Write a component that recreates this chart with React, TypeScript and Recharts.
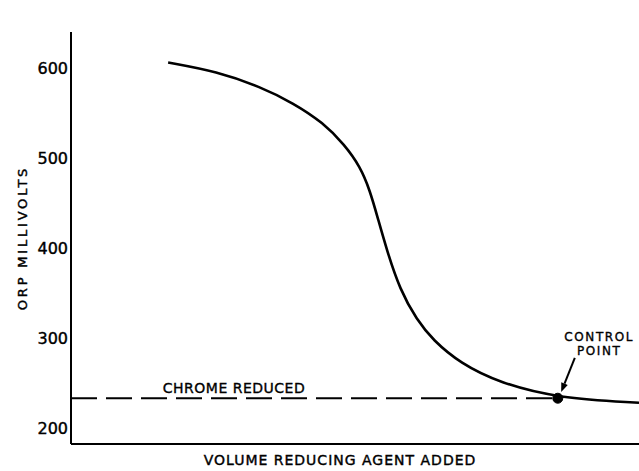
import React from 'react';
import { LineChart, Line, XAxis, YAxis, ReferenceDot, ReferenceLine, Label } from 'recharts';

const FONT = '"DejaVu Sans", sans-serif';

// Volume of reducing agent added (relative units, 0-100)
const volumeValues = [17.1, 25.7, 33.3, 39.1, 44.4, 48.2, 50.9, 52.6, 54.0, 55.6, 57.9, 60.9, 63.7, 68.5, 75.5, 85.7, 100];
// ORP in millivolts
const orpValues = [607, 597, 580, 562, 540, 515, 491, 465, 434, 398, 354, 320, 298, 272, 250, 233, 228];

const yTicks = [200, 300, 400, 500, 600];
const yDomain = [182, 641];
const xDomain = [0, 100];

const chromeVolumes = [0, 85.7];
const chromeLevel = 233;

const controlPoint = { x: 85.7, orp: 233 };
const arrowFrom = { x: 88.7, orp: 278 };
const arrowTo = { x: 86.3, orp: 240 };

const annotations = [
  { lines: ['CHROME REDUCED'], x: 28.7, orp: 239, size: 14, spacing: 0.5 },
  { lines: ['CONTROL', 'POINT'], x: 93.0, orp: 296.3, size: 12, spacing: 1.6 },
];

const curveData = volumeValues.map((x, i) => ({ x, orp: orpValues[i] }));
const chromeData = chromeVolumes.map((x) => ({ x, orp: chromeLevel }));

const YLabel = (props: any) => {
  const vb = props.viewBox || { x: 0, y: 0, width: 0, height: 0 };
  const cx = vb.x + 27;
  const cy = vb.y + vb.height / 2;
  return (
    <text
      x={cx}
      y={cy}
      transform={`rotate(-90 ${cx} ${cy})`}
      textAnchor="middle"
      fontFamily={FONT}
      fontSize={13}
      letterSpacing={2.8}
      fill="#000"
      stroke="#000"
      strokeWidth={0.4}
    >
      ORP MILLIVOLTS
    </text>
  );
};

const XLabel = (props: any) => {
  const vb = props.viewBox || { x: 0, y: 0, width: 0, height: 0 };
  return (
    <text
      x={vb.x + vb.width / 2 - 15}
      y={vb.y + 21}
      textAnchor="middle"
      fontFamily={FONT}
      fontSize={14}
      letterSpacing={1}
      fill="#000"
      stroke="#000"
      strokeWidth={0.4}
    >
      VOLUME REDUCING AGENT ADDED
    </text>
  );
};

const ArrowShape = (props: any) => {
  const { x1, y1, x2, y2 } = props;
  if ([x1, y1, x2, y2].some((v) => typeof v !== 'number' || isNaN(v))) return null;
  const ang = Math.atan2(y2 - y1, x2 - x1);
  const len = 9;
  const hw = 3.5;
  const bx = x2 - len * Math.cos(ang);
  const by = y2 - len * Math.sin(ang);
  const px = -Math.sin(ang) * hw;
  const py = Math.cos(ang) * hw;
  return (
    <g>
      <line x1={x1} y1={y1} x2={bx} y2={by} stroke="#000" strokeWidth={2} />
      <polygon points={`${x2},${y2} ${bx + px},${by + py} ${bx - px},${by - py}`} fill="#000" />
    </g>
  );
};

const makeTextShape = (a: any) => (props: any) => (
  <text
    x={props.cx}
    y={props.cy}
    textAnchor="middle"
    fontFamily={FONT}
    fontSize={a.size}
    letterSpacing={a.spacing}
    fill="#000"
    stroke="#000"
    strokeWidth={0.35}
  >
    {a.lines.map((l: string, i: number) => (
      <tspan key={l} x={props.cx} dy={i === 0 ? 0 : 14}>
        {l}
      </tspan>
    ))}
  </text>
);

export default function App() {
  return (
    <div style={{ position: 'absolute', left: 0, top: 0, width: 639, height: 471, background: '#fff' }}>
      <LineChart width={639} height={471} margin={{ top: 32, right: 0, bottom: 0, left: 0 }}>
        <XAxis
          type="number"
          dataKey="x"
          domain={xDomain}
          tick={false}
          tickLine={false}
          height={27}
          axisLine={{ stroke: '#000', strokeWidth: 2 }}
          allowDataOverflow
        >
          <Label content={XLabel} />
        </XAxis>
        <YAxis
          type="number"
          dataKey="orp"
          domain={yDomain}
          ticks={yTicks}
          width={71}
          tickSize={0}
          tickMargin={3}
          tickLine={false}
          tick={{ fill: '#000', fontSize: 16, fontFamily: FONT, stroke: '#000', strokeWidth: 0.4 }}
          axisLine={{ stroke: '#000', strokeWidth: 2 }}
          allowDataOverflow
        >
          <Label content={YLabel} />
        </YAxis>
        <Line
          data={chromeData}
          dataKey="orp"
          type="linear"
          stroke="#000"
          strokeWidth={2}
          strokeDasharray="26 9"
          dot={false}
          activeDot={false}
          isAnimationActive={false}
        />
        <Line
          data={curveData}
          dataKey="orp"
          type="basis"
          stroke="#000"
          strokeWidth={2.6}
          dot={false}
          activeDot={false}
          isAnimationActive={false}
        />
        <ReferenceDot x={controlPoint.x} y={controlPoint.orp} r={5} fill="#000" stroke="#000" />
        <ReferenceLine
          segment={[
            { x: arrowFrom.x, y: arrowFrom.orp },
            { x: arrowTo.x, y: arrowTo.orp },
          ]}
          shape={ArrowShape}
        />
        {annotations.map((a) => (
          <ReferenceDot key={a.lines[0]} x={a.x} y={a.orp} r={1} shape={makeTextShape(a)} />
        ))}
      </LineChart>
    </div>
  );
}
